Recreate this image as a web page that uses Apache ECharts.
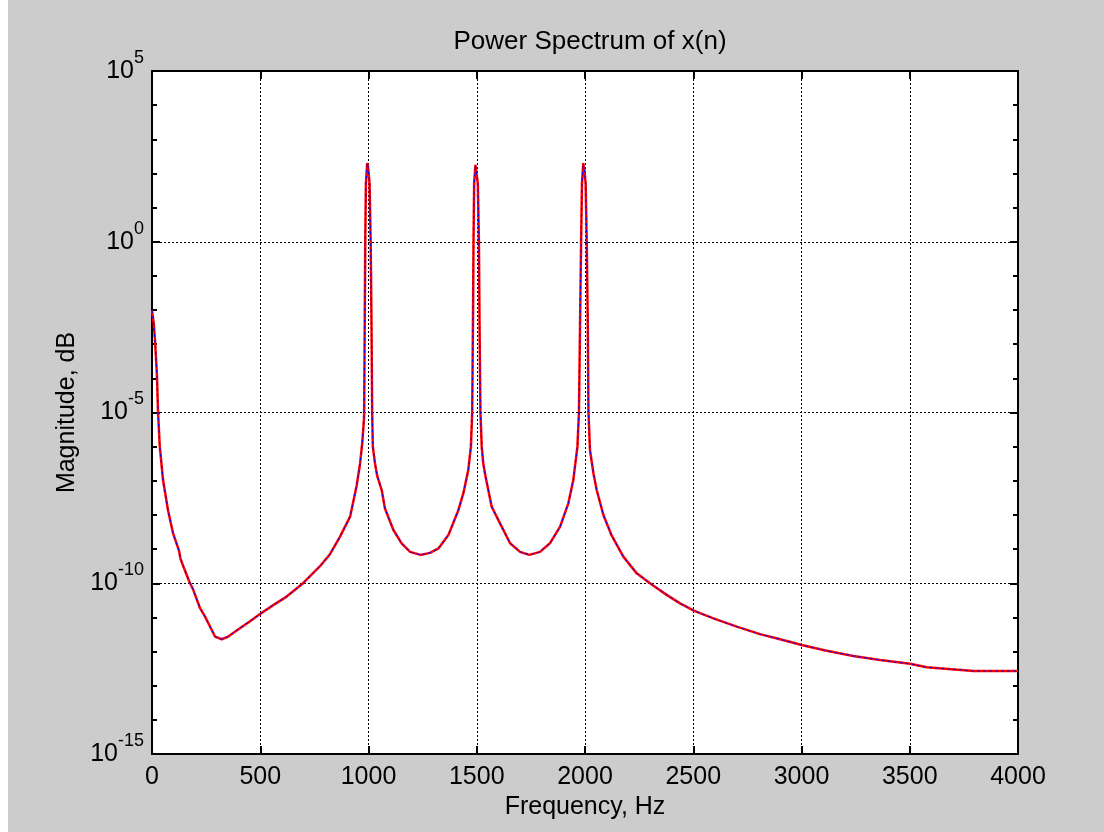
<!DOCTYPE html>
<html>
<head>
<meta charset="utf-8">
<script src="https://cdn.jsdelivr.net/npm/echarts@6/dist/echarts.min.js"></script>
<style>
html,body{margin:0;padding:0;background:#ffffff;}
#chart{position:absolute;left:8px;top:0;width:1096px;height:832px;}
</style>
</head>
<body>
<div id="chart"></div>
<script>
// Frequency (Hz) and magnitude values
const frequency = [0, 8, 15, 23, 28, 36, 51, 74, 97, 125, 131, 145, 172, 191, 222, 245, 276, 291, 322, 352, 406, 453, 499, 560, 622, 699, 776, 822, 868, 915, 945, 961, 971, 979,
  980, 983, 985, 988, 994, 998, 1005, 1010, 1014, 1017, 1020, 1030, 1040, 1061, 1076, 1115, 1153, 1192, 1240, 1284, 1323, 1369, 1415, 1438, 1461, 1473,
  1479, 1483, 1485, 1488, 1494, 1498, 1505, 1510, 1513, 1517, 1523, 1530, 1540, 1569, 1607, 1654, 1700, 1743, 1792, 1838, 1885, 1923, 1946, 1965,
  1972, 1978, 1982, 1986, 1992, 1997, 2003, 2008, 2013, 2016, 2023, 2039, 2054, 2085, 2123, 2177, 2239, 2300, 2377, 2439, 2505, 2593, 2701, 2808,
  2901, 3001, 3116, 3239, 3363, 3501, 3578, 3678, 3794, 4000];
const magnitude = [1e-2, 3.98e-3, 1e-3, 1.12e-4, 1e-5, 1e-6, 1.05e-7, 1.38e-8, 2.95e-9, 8.91e-10, 5.37e-10, 3.09e-10, 1.12e-10, 6.31e-11, 1.86e-11, 1.05e-11, 4.27e-12, 2.75e-12, 2.29e-12, 2.75e-12, 4.79e-12, 7.76e-12, 1.26e-11, 2.29e-11, 4.07e-11, 1.02e-10, 3.16e-10, 7.08e-10, 2.29e-9, 8.91e-9, 7.08e-8, 3.16e-7, 1.26e-6, 6.31e-6,
  1e-5, 1e-2, 1, 50.1, 200, 158, 50.1, 1, 3.16e-3, 1e-5, 1e-6, 3.24e-7, 1.41e-7, 5.37e-8, 1.55e-8, 3.63e-9, 1.48e-9, 8.32e-10, 6.76e-10, 7.76e-10, 1.05e-9, 2.57e-9, 1.38e-8, 4.27e-8, 2.09e-7, 1e-6,
  1e-5, 1e-2, 1, 50.1, 178, 158, 50.1, 1, 3.16e-3, 1e-5, 1e-6, 3.24e-7, 1.41e-7, 1.74e-8, 5.75e-9, 1.48e-9, 8.32e-10, 6.76e-10, 8.32e-10, 1.48e-9, 4.57e-9, 2.19e-8, 1.05e-7, 1e-6,
  1e-5, 1e-2, 1, 50.1, 200, 126, 50.1, 1, 3.16e-3, 1e-5, 7.94e-7, 1.66e-7, 5.37e-8, 1e-8, 2.51e-9, 6.03e-10, 1.95e-10, 1e-10, 4.57e-11, 2.57e-11, 1.55e-11, 9.33e-12, 5.37e-12, 3.24e-12,
  2.29e-12, 1.55e-12, 1.05e-12, 7.41e-13, 5.62e-13, 4.37e-13, 3.47e-13, 3.09e-13, 2.69e-13, 2.69e-13];
const xTicks = [0, 500, 1000, 1500, 2000, 2500, 3000, 3500, 4000];
const yMin = 1e-15, yMax = 1e5;
const titleText = 'Power Spectrum of x(n)';
const xName = 'Frequency, Hz';
const yName = 'Magnitude, dB';

const pts = frequency.map((f, i) => [f, magnitude[i]]);
const FONT = 'Liberation Sans, Arial, sans-serif';
const FS = 25;
const grid = { left: 144, right: 86, top: 71, bottom: 78 };
const dotted = { color: '#000', width: 1, type: [2, 2] };

function expLabel(v) {
  const e = Math.round(Math.log10(v));
  return '{b|10}{s|' + e + '}';
}

const chart = echarts.init(document.getElementById('chart'));
chart.setOption({
  animation: false,
  backgroundColor: '#cccccc',
  title: {
    text: titleText, left: 144 + 433, top: 24, textAlign: 'center',
    textStyle: { fontFamily: FONT, fontSize: 26, fontWeight: 'normal', color: '#000' }
  },
  grid: Object.assign({ backgroundColor: '#fff', show: true, borderWidth: 0 }, grid),
  xAxis: [{
    type: 'value', min: xTicks[0], max: xTicks[xTicks.length - 1], interval: 500,
    name: xName, nameLocation: 'middle', nameGap: 41,
    nameTextStyle: { fontFamily: FONT, fontSize: FS, color: '#000' },
    axisLine: { show: true, lineStyle: { color: '#000', width: 2 } },
    axisTick: { show: true, inside: true, length: 8, lineStyle: { color: '#000', width: 2 } },
    axisLabel: { fontFamily: FONT, fontSize: FS, color: '#000', margin: 11, formatter: v => String(v) },
    splitLine: { show: true, lineStyle: dotted }
  }, {
    type: 'value', position: 'top', min: 0, max: 4000, interval: 500,
    axisLine: { show: true, onZero: false, lineStyle: { color: '#000', width: 2 } },
    axisTick: { show: true, inside: true, length: 8, lineStyle: { color: '#000', width: 2 } },
    axisLabel: { show: false }, splitLine: { show: false }
  }],
  yAxis: [{
    type: 'log', logBase: 10, min: yMin, max: yMax, interval: 5,
    name: yName, nameLocation: 'middle', nameGap: 69, nameRotate: 90,
    nameTextStyle: { fontFamily: FONT, fontSize: FS, color: '#000' },
    axisLine: { show: true, lineStyle: { color: '#000', width: 2 } },
    axisTick: { show: true, inside: true, length: 8, lineStyle: { color: '#000', width: 2 } },
    axisLabel: {
      formatter: expLabel, margin: 8,
      rich: {
        b: { fontFamily: FONT, fontSize: FS, lineHeight: 44, color: '#000', verticalAlign: 'middle' },
        s: { fontFamily: FONT, fontSize: 18, lineHeight: 18, color: '#000', verticalAlign: 'top' }
      }
    },
    splitLine: { show: true, lineStyle: dotted }
  }, {
    type: 'log', logBase: 10, min: yMin, max: yMax, interval: 1, position: 'left',
    axisLine: { show: false },
    axisTick: { show: true, inside: true, length: 5, lineStyle: { color: '#000', width: 2 } },
    axisLabel: { show: false }, splitLine: { show: false }
  }, {
    type: 'log', logBase: 10, min: yMin, max: yMax, interval: 1, position: 'right',
    axisLine: { show: true, onZero: false, lineStyle: { color: '#000', width: 2 } },
    axisTick: { show: true, inside: true, length: 5, lineStyle: { color: '#000', width: 2 } },
    axisLabel: { show: false }, splitLine: { show: false }
  }, {
    type: 'log', logBase: 10, min: yMin, max: yMax, interval: 5, position: 'right',
    axisLine: { show: false },
    axisTick: { show: true, inside: true, length: 8, lineStyle: { color: '#000', width: 2 } },
    axisLabel: { show: false }, splitLine: { show: false }
  }],
  series: [{
    type: 'line', data: pts, showSymbol: false, xAxisIndex: 0, yAxisIndex: 0,
    lineStyle: { color: '#ff0000', width: 2.5 }, z: 3
  }, {
    type: 'line', data: pts, showSymbol: false, xAxisIndex: 0, yAxisIndex: 0,
    lineStyle: { color: '#0000ff', width: 1, type: [3, 3] }, z: 4
  }]
});
</script>
</body>
</html>
